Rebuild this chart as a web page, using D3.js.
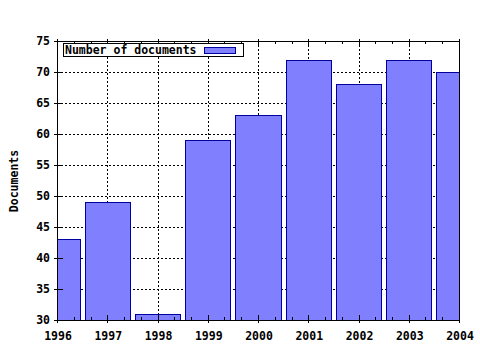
<!DOCTYPE html>
<html>
<head>
<meta charset="utf-8">
<script src="https://cdn.jsdelivr.net/npm/d3@7"></script>
<style>
body { margin: 0; background: #fff; }
svg text { font-family: "DejaVu Sans Mono", monospace; font-weight: bold; font-size: 11.5px; fill: #000; }
</style>
</head>
<body>
<div class="graph"></div>
<script>
// documents per year, bar chart in the old gnuplot look
var years = [1996, 1997, 1998, 1999, 2000, 2001, 2002, 2003, 2004];
var documents = [43, 49, 31, 59, 63, 72, 68, 72, 70];
var yTicks = [30, 35, 40, 45, 50, 55, 60, 65, 70, 75];
var seriesName = "Number of documents";

var width = 480, height = 350;
var pLeft = 57, pRight = 459, pTop = 41, pBottom = 320;

let svg = d3.select(".graph").append("svg")
    .attr("width", width)
    .attr("height", height);

let x = d3.scaleLinear().domain([1996, 2004]).range([pLeft, pRight]);
let y = d3.scaleLinear().domain([30, 75]).range([pBottom, pTop]);

svg.append("clipPath").attr("id", "plot")
    .append("rect")
    .attr("x", pLeft).attr("y", pTop)
    .attr("width", pRight - pLeft).attr("height", pBottom - pTop);

// dotted grid
let grid = svg.append("g")
    .attr("stroke", "#000")
    .attr("stroke-width", 1)
    .attr("stroke-dasharray", "2,2");

grid.selectAll(".gx").data(years.slice(1, -1)).enter().append("line")
    .attr("x1", d => Math.round(x(d)) + 0.5).attr("x2", d => Math.round(x(d)) + 0.5)
    .attr("y1", pTop).attr("y2", pBottom);

grid.selectAll(".gy").data(yTicks.slice(1, -1)).enter().append("line")
    .attr("x1", pLeft).attr("x2", pRight)
    .attr("y1", d => Math.round(y(d)) + 0.5).attr("y2", d => Math.round(y(d)) + 0.5);

// bars
svg.append("g")
    .attr("clip-path", "url(#plot)")
    .selectAll("rect").data(years).enter().append("rect")
    .attr("x", d => Math.round(x(d - 0.45)) + 0.5)
    .attr("width", d => Math.round(x(d + 0.45)) - Math.round(x(d - 0.45)))
    .attr("y", (d, i) => Math.round(y(documents[i])) + 0.5)
    .attr("height", (d, i) => Math.round(y(30)) - Math.round(y(documents[i])))
    .attr("fill", "#8080ff")
    .attr("stroke", "#0000a0")
    .attr("stroke-width", 1);

// frame
svg.append("rect")
    .attr("x", pLeft + 0.5).attr("y", pTop + 0.5)
    .attr("width", pRight - pLeft).attr("height", pBottom - pTop)
    .attr("fill", "none")
    .attr("stroke", "#000");

// ticks
let minor = d3.range(0, 25).map(i => 1996 + i / 3);
let ticks = svg.append("g").attr("stroke", "#000");

ticks.selectAll(".xb").data(minor).enter().append("line")
    .attr("x1", d => Math.round(x(d)) + 0.5).attr("x2", d => Math.round(x(d)) + 0.5)
    .attr("y1", (d, i) => i % 3 == 0 ? pBottom + 3 : pBottom)
    .attr("y2", (d, i) => i % 3 == 0 ? pBottom - 5 : pBottom - 3);

ticks.selectAll(".xt").data(minor).enter().append("line")
    .attr("x1", d => Math.round(x(d)) + 0.5).attr("x2", d => Math.round(x(d)) + 0.5)
    .attr("y1", (d, i) => i % 3 == 0 ? pTop - 2 : pTop)
    .attr("y2", (d, i) => i % 3 == 0 ? pTop + 5 : pTop + 3);

ticks.selectAll(".yl").data(yTicks).enter().append("line")
    .attr("x1", pLeft - 3).attr("x2", pLeft + 6)
    .attr("y1", d => Math.round(y(d)) + 0.5).attr("y2", d => Math.round(y(d)) + 0.5);

// tick labels
svg.selectAll(".xlab").data(years).enter().append("text")
    .attr("x", d => x(d) + 1)
    .attr("y", pBottom + 20)
    .attr("text-anchor", "middle")
    .text(d => d);

svg.selectAll(".ylab").data(yTicks).enter().append("text")
    .attr("x", pLeft - 7)
    .attr("y", d => y(d) + 4)
    .attr("text-anchor", "end")
    .text(d => d);

svg.append("text")
    .attr("transform", "translate(18,181) rotate(-90)")
    .attr("text-anchor", "middle")
    .text("Documents");

// key
let key = svg.append("g");
key.append("rect")
    .attr("x", 63.5).attr("y", 43.5)
    .attr("width", 180).attr("height", 13)
    .attr("fill", "#fff")
    .attr("stroke", "#000");
key.append("text")
    .attr("x", 65).attr("y", 54)
    .text(seriesName);
key.append("rect")
    .attr("x", 204.5).attr("y", 47.5)
    .attr("width", 31).attr("height", 6)
    .attr("fill", "#8080ff")
    .attr("stroke", "#0000a0");
</script>
</body>
</html>
